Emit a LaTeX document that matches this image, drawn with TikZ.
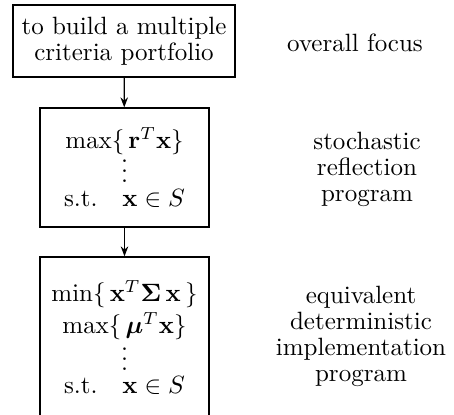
\documentclass[tikz,border=0pt]{standalone}
\usepackage{amsmath, amssymb, bm}
\usepackage{xcolor}
\usepackage{tikz}
\usetikzlibrary{arrows.meta}

\begin{document}
\begin{tikzpicture}[x=0.4pt,y=-0.4pt,
    level/.style={draw,line width=0.5pt,inner sep=0pt,align=center,
      font=\fontsize{10}{10.4}\selectfont},
    remark/.style={align=center,inner sep=0pt,font=\fontsize{10}{10.4}\selectfont},
    down/.style={line width=0.5pt,-{Stealth[length=4pt,width=3pt]}}]

    \clip (0,0) rectangle (454,414);
          % Fixes the page and cuts the open lower box.

    \node[level,minimum width=88.8pt,minimum height=28.8pt] (focus) at (124,41)
      {to build a multiple\\criteria portfolio};
    \node[level,minimum width=67.6pt,minimum height=47.6pt] (stoch) at (124.5,167.5)
      {$\max\{\,\mathbf{r}^T\mathbf{x}\}$\\[-4.9pt]$\vdots$\\[-1pt]s.t.\quad$\mathbf{x}\in S$};
    \node[level,minimum width=67.6pt,minimum height=64.4pt] (equiv) at (124.5,337.5)
      {$\min\{\,\mathbf{x}^T\bm{\Sigma}\,\mathbf{x}\,\}$\\[1pt]$\max\{\,\bm{\mu}^T\mathbf{x}\}$\\[-3.7pt]$\vdots$\\[-1.2pt]s.t.\quad$\mathbf{x}\in S$};
          % The three levels, top to bottom

    \draw[down] (focus) -- (stoch);
    \draw[down] (stoch) -- (equiv);

		\node[remark] (focuslabel) at (355,43) {overall focus};
		\node[remark] (stochlabel) at (367,169) {stochastic\\reflection\\program};
		\node[remark] (equivlabel) at (361,336) {equivalent\\deterministic\\implementation\\program};

\end{tikzpicture}
\end{document}
